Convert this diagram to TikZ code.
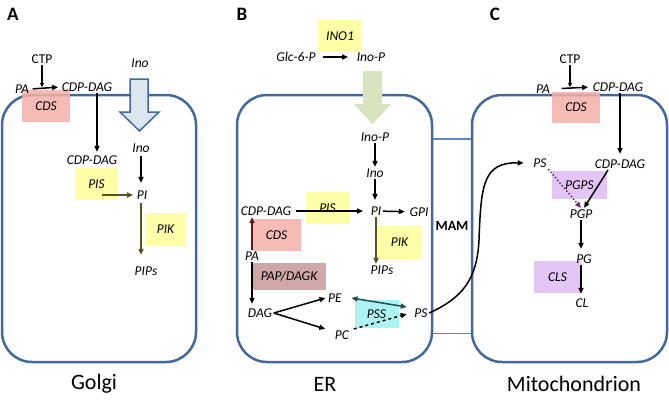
\documentclass[tikz,border=0pt]{standalone}
\usepackage{fontspec}
\setmainfont{Carlito}
\usetikzlibrary{arrows.meta}
\definecolor{boxblue}{HTML}{43689B}
\definecolor{mamblue}{HTML}{5B87C6}
\definecolor{pinkc}{HTML}{F6B0AA}
\definecolor{yelc}{HTML}{FFFF99}
\definecolor{papc}{HTML}{C89898}
\definecolor{cyanc}{HTML}{A0F2F2}
\definecolor{purpc}{HTML}{DDBBF4}
\definecolor{greenc}{HTML}{D7E4BD}
\definecolor{lbluec}{HTML}{DCE6F1}
\definecolor{olivec}{HTML}{55551E}
\definecolor{tealc}{HTML}{1F4F4F}
\definecolor{darkredc}{HTML}{5A1A1A}
\definecolor{purpdark}{HTML}{6A2A7A}
\tikzset{
  met/.style={font=\fontsize{13.5}{16}\selectfont\itshape, inner sep=1.5pt},
  metup/.style={font=\fontsize{13.5}{16}\selectfont, inner sep=1.5pt},
  enz/.style={font=\fontsize{13.5}{16}\selectfont\itshape, inner sep=0pt, fill opacity=0.85, text opacity=1},
  arr/.style={-{Triangle[length=6pt,width=5pt]}, line width=1.5pt},
  smallarr/.style={-{Triangle[length=4pt,width=4pt]}, line width=1.5pt},
  comp/.style={draw=boxblue, line width=2.5pt, rounded corners=30pt, inner sep=0pt},
  mamln/.style={draw=mamblue, line width=1.5pt},
  panel/.style={font=\fontsize{19}{20}\selectfont\bfseries},
  cname/.style={font=\fontsize{22}{24}\selectfont}
}
\begin{document}
\begin{tikzpicture}[x=1pt,y=-1pt]
\useasboundingbox[fill=white] (0,0) rectangle (669,400);

% compartments
\node[comp, minimum width=194pt, minimum height=267pt] (golgi) at (99,228.5) {};
\node[comp, minimum width=195pt, minimum height=267pt] (er) at (334.5,228.5) {};
\node[comp, minimum width=195pt, minimum height=267pt] (mito) at (569.5,228.5) {};
\draw[mamln] ([yshift=-45pt]er.north east) -- ([yshift=-45pt]mito.north west);
\draw[mamln] ([yshift=30pt]er.south east) -- ([yshift=30pt]mito.south west);

% panel labels
\node[panel] (lA) at (13,14) {A};
\node[panel] (lB) at (242,14) {B};
\node[panel] (lC) at (495,14) {C};
\node[cname] (nGolgi) at (94,384) {Golgi};
\node[cname] (nER) at (325,384) {ER};
\node[cname] (nMito) at (574,384) {Mitochondrion};

% enzyme boxes
\node[enz, fill=pinkc, minimum width=48pt, minimum height=32pt] (cdsA) at (46,106) {CDS};
\node[enz, fill=yelc, minimum width=43pt, minimum height=32pt] (pisA) at (96.5,184) {PIS};
\node[enz, fill=yelc, minimum width=41pt, minimum height=33pt] (pikA) at (165.5,229.5) {PIK};
\node[enz, fill=yelc, minimum width=44pt, minimum height=32pt] (ino1) at (340,36) {INO1};
\node[enz, fill=yelc, minimum width=43pt, minimum height=32pt] (pisB) at (327.5,208) {PIS};
\node[enz, fill=yelc, minimum width=45pt, minimum height=33pt] (pikB) at (399.5,242.5) {PIK};
\node[enz, fill=pinkc, minimum width=49pt, minimum height=32pt] (cdsB) at (276.5,235) {CDS};
\node[enz, fill=papc, minimum width=74pt, minimum height=27pt] (pap) at (289,276.5) {PAP/DAGK};
\node[enz, fill=cyanc, minimum width=44pt, minimum height=28pt] (pss) at (376.5,314) {PSS};
\node[enz, fill=pinkc, minimum width=48pt, minimum height=31pt] (cdsC) at (576,107.5) {CDS};
\node[enz, fill=purpc, minimum width=55pt, minimum height=28pt] (pgps) at (579.5,185) {PGPS};
\node[enz, fill=purpc, minimum width=47pt, minimum height=32pt] (cls) at (557.5,277) {CLS};

% big arrows
\draw[draw=boxblue, fill=lbluec, line width=1.5pt, line join=miter]
  (130,79) -- (148,79) -- (148,112) -- (159,112) -- (139.5,131) -- (120,112) -- (130,112) -- cycle;
\fill[greenc] (363,71) -- (382,71) -- (382,104) -- (391,104) -- (372.5,124) -- (354,104) -- (363,104) -- cycle;

% ---------- Golgi ----------
\node[metup] (ctpA) at (42,59) {CTP};
\node[met] (paA) at (22,89) {PA};
\node[met] (cdpA1) at (87,87) {CDP-DAG};
\draw[smallarr] (ctpA.south) -- (ctpA.south |- cdpA1.west);
\draw[arr, shorten <=2pt, shorten >=2pt] (paA.east) -- (cdpA1.west);
\node[met] (cdpA2) at (92,160) {CDP-DAG};
\draw[arr, shorten >=2pt] ([xshift=10pt]cdpA1.south) -- ([xshift=5pt]cdpA2.north);
\node[met] (inoA1) at (140,63) {Ino};
\node[met] (inoA2) at (141,148) {Ino};
\node[met] (piA) at (142,195) {PI};
\draw[arr, shorten <=2pt, shorten >=6pt] (inoA2.south) -- (inoA2.south |- piA.north);
\coordinate (pisAs) at (102,195);
\draw[arr, draw=olivec, shorten >=2pt] (pisAs) -- (piA.west);
\node[met] (pipsA) at (146,271) {PIPs};
\draw[arr, draw=olivec, shorten <=2pt, shorten >=10pt] ([xshift=-1pt]piA.south) -- ([xshift=-1pt]piA.south |- pipsA.north);

% ---------- ER ----------
\node[met] (glc) at (296,57) {Glc-6-P};
\node[met] (inoP1) at (371,57) {Ino-P};
\draw[arr, shorten <=6pt, shorten >=7pt] (glc) -- (inoP1);
\node[met] (inoP2) at (375,137) {Ino-P};
\node[met] (inoB) at (375,173) {Ino};
\draw[arr] (inoP2) -- (inoB);
\node[met] (piB) at (376,211) {PI};
\draw[arr, shorten >=5pt] (inoB.south) -- (inoB.south |- piB.north);
\node[met] (cdpB) at (266,211) {CDP-DAG};
\draw[arr, shorten <=3pt, shorten >=6pt] (cdpB) -- (piB);
\node[met] (gpi) at (419,212) {GPI};
\draw[arr, shorten >=3pt] (piB) -- (gpi);
\node[met] (pipsB) at (382,270) {PIPs};
\draw[arr, draw=olivec] (piB.south) -- (piB.south |- pipsB.north);
\node[met] (paB) at (252,256) {PA};
\draw[arr, draw=darkredc] (paB.north) -- (paB.north |- cdpB.south);
\node[met] (dag) at (260,313) {DAG};
\draw[arr, shorten >=3pt] (paB.south) -- (paB.south |- dag.north);
\node[met] (pe) at (335,298) {PE};
\node[met] (pc) at (342,335) {PC};
\node[met] (psB) at (421,313) {PS};
\draw[arr] (dag.east) -- ([xshift=-1pt]pe.west);
\draw[arr] (dag.east) -- ([xshift=-8pt,yshift=6pt]pc.west);
\draw[{Triangle[length=6pt,width=5pt]}-{Triangle[length=6pt,width=5pt]}, line width=1.5pt, draw=tealc]
  ([xshift=8pt]pe.east) -- ([xshift=-6pt,yshift=6pt]psB.west);
\draw[arr, dashed] ([xshift=3pt,yshift=6pt]pc.east) -- ([xshift=-6pt,yshift=-1pt]psB.west);
\node[font=\fontsize{14}{16}\selectfont\bfseries] (mam) at (452,226) {MAM};

% ---------- Mitochondrion ----------
\node[metup] (ctpC) at (570,59) {CTP};
\node[met] (paC) at (543,89) {PA};
\node[met] (cdpC1) at (618,87) {CDP-DAG};
\draw[smallarr] (ctpC.south) -- (ctpC.south |- cdpC1.west);
\draw[arr, shorten <=10pt, shorten >=3pt] (paC.east) -- (cdpC1.west);
\node[met] (cdpC2) at (620,164) {CDP-DAG};
\draw[arr, shorten >=4pt] ([xshift=2pt]cdpC1.south) -- (cdpC2.north);
\node[met] (psC) at (540,163) {PS};
\node[met] (pgp) at (581,214) {PGP};
\draw[arr, dotted, draw=purpdark] (psC.south east) -- (pgp.north);
\draw[arr] ([xshift=-12pt]cdpC2.south) -- ([xshift=3pt]pgp.north);
\node[met] (pg) at (584,259) {PG};
\draw[arr, shorten >=4pt] (pgp.south) -- (pgp.south |- pg.north);
\node[met] (cl) at (582,303) {CL};
\draw[arr, shorten >=3pt] (pgp.south |- pg.south) -- (pgp.south |- cl.north);

% MAM transfer
\draw[arr] (psB.east) .. controls (462,298) and (477,280) .. (479,240)
  .. controls (481,185) and (483,162) .. ([xshift=-8pt]psC.west);
\end{tikzpicture}
\end{document}
